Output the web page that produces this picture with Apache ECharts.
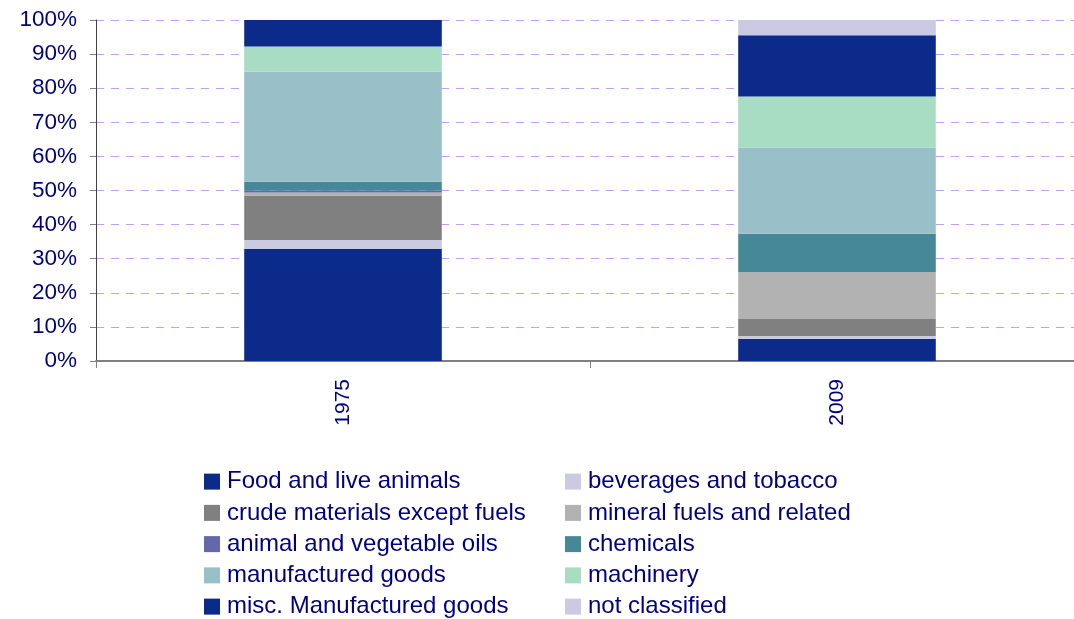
<!DOCTYPE html>
<html>
<head>
<meta charset="utf-8">
<script src="https://cdn.jsdelivr.net/npm/echarts@6/dist/echarts.min.js"></script>
<style>
html,body{margin:0;padding:0;background:#fff;}
#c{width:1074px;height:619px;}
</style>
</head>
<body>
<div id="c"></div>
<script>
var categories = ['1975', '2009'];
var seriesNames = [
  'Food and live animals', 'beverages and tobacco',
  'crude materials except fuels', 'mineral fuels and related',
  'animal and vegetable oils', 'chemicals',
  'manufactured goods', 'machinery',
  'misc. Manufactured goods', 'not classified'
];
var food = [32.9, 6.5];
var beverages = [2.6, 0.8];
var crude = [13.0, 5.0];
var mineral = [0.9, 13.8];
var oils = [0.5, 0.0];
var chemicals = [2.7, 11.2];
var manufactured = [32.3, 25.3];
var machinery = [7.3, 15.0];
var misc = [7.8, 17.9];
var notClassified = [0.0, 4.5];
var yTicks = [0, 10, 20, 30, 40, 50, 60, 70, 80, 90, 100];

var values = [food, beverages, crude, mineral, oils, chemicals, manufactured, machinery, misc, notClassified];
var colors = ['#0C2A8A', '#CCCAE2', '#808080', '#B2B2B2', '#6666AA', '#478898', '#99BFC8', '#A9DDC3', '#0C2A8A', '#CCCAE2'];

var FONT = 'Liberation Sans, Arial, sans-serif';
var TXT = '#000080';

var chart = echarts.init(document.getElementById('c'), null, {renderer: 'canvas'});

var series = seriesNames.map(function (n, i) {
  return {
    name: n,
    type: 'bar',
    stack: 'total',
    barWidth: '40%',
    data: values[i],
    itemStyle: {color: colors[i]},
    emphasis: {disabled: true}
  };
});

function legendCfg(names, left) {
  return {
    orient: 'vertical',
    left: left,
    top: 466,
    height: 200,
    padding: 0,
    data: names,
    icon: 'rect',
    itemWidth: 16,
    itemHeight: 16,
    itemGap: 0,
    selectedMode: false,
    textStyle: {color: TXT, fontSize: 24, fontFamily: FONT, lineHeight: 31.25, padding: [0, 0, 0, 2]}
  };
}

chart.setOption({
  animation: false,
  color: colors,
  grid: {left: 96, right: -10, top: 20, bottom: 258, containLabel: false, outerBoundsMode: 'none'},
  legend: [
    legendCfg(seriesNames.filter(function (n, i) { return i % 2 === 0; }), 204),
    legendCfg(seriesNames.filter(function (n, i) { return i % 2 === 1; }), 565)
  ],
  xAxis: {
    type: 'category',
    data: categories,
    axisLine: {lineStyle: {color: '#808080', width: 2}},
    axisTick: {show: true, length: 7, lineStyle: {color: '#808080'}},
    axisLabel: {rotate: 90, margin: 18, color: TXT, fontSize: 21, fontFamily: FONT}
  },
  yAxis: {
    type: 'value',
    min: yTicks[0],
    max: yTicks[yTicks.length - 1],
    interval: 10,
    axisLine: {show: true, lineStyle: {color: '#404040', width: 1}},
    axisTick: {show: true, length: 6, lineStyle: {color: '#808080'}},
    axisLabel: {formatter: '{value}%', margin: 19, color: TXT, fontSize: 22.5, fontFamily: FONT},
    splitLine: {show: true, lineStyle: {color: '#C49CFA', type: [8, 7], width: 1}}
  },
  series: series
});
</script>
</body>
</html>
